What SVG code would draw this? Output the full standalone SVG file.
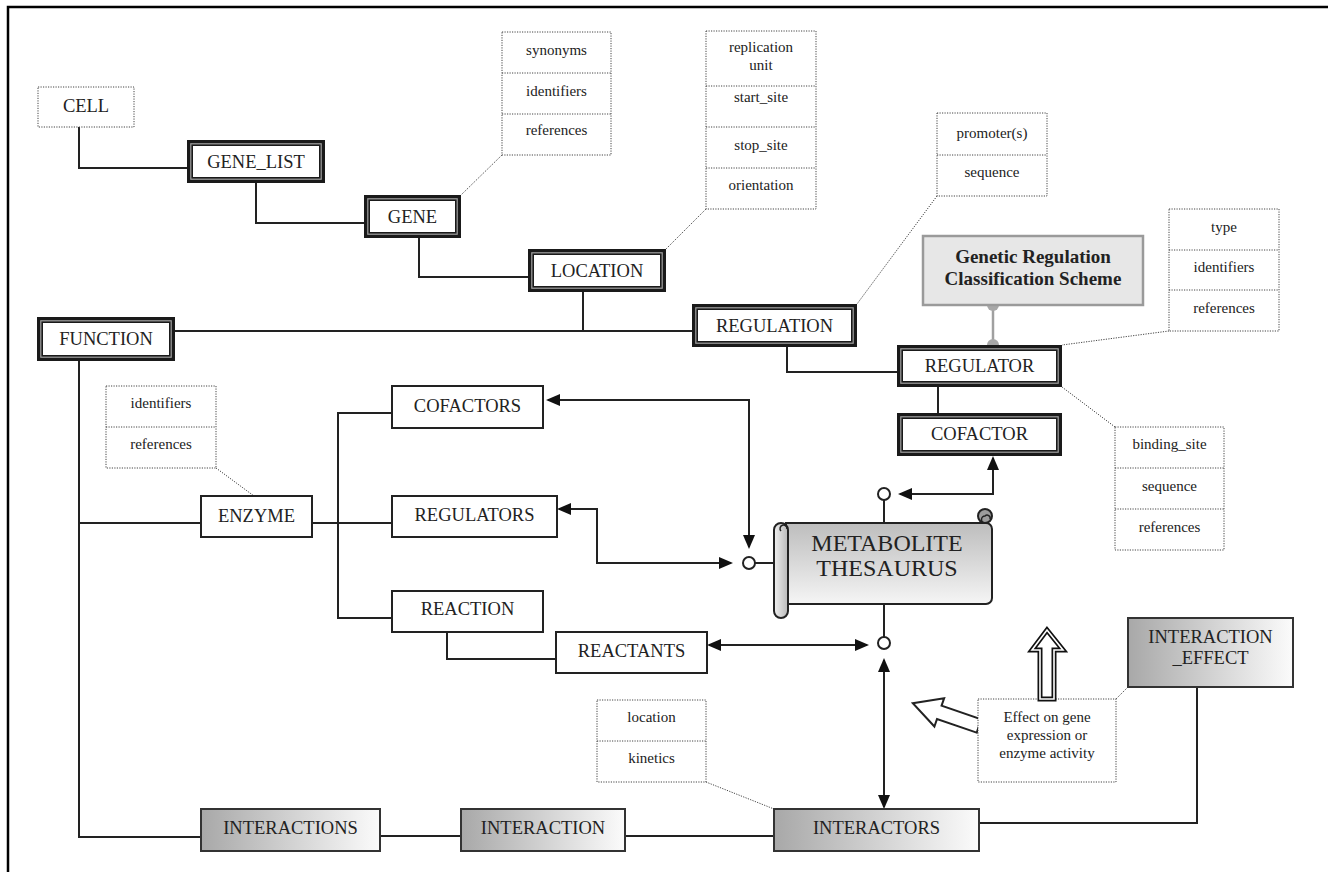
<svg xmlns="http://www.w3.org/2000/svg" width="1328" height="872" viewBox="0 0 1328 872">
<defs>
<style>
.frame{stroke:#000;stroke-width:2.5;fill:none}
.conn{stroke:#222;stroke-width:2;fill:none}
.arr{stroke:#222;stroke-width:2;fill:none;marker-start:url(#ah);marker-end:url(#ah)}
.dot{stroke:#444;stroke-width:1;stroke-dasharray:1.2 1.3;fill:none}
.dotbox{fill:#fff;stroke:#444;stroke-width:1;stroke-dasharray:1.2 1.3}
.single{fill:#fff;stroke:#222;stroke-width:2}
.dblo{fill:#fff;stroke:#1a1a1a;stroke-width:6}
.dbli{fill:none;stroke:#a0a0a0;stroke-width:1.2}
.grad{fill:url(#gh);stroke:#333;stroke-width:2}
.circ{fill:#fff;stroke:#222;stroke-width:2}
.lbl{font-family:"Liberation Serif","Times New Roman",serif;font-size:18.5px;fill:#222;text-anchor:middle}
.sm{font-size:15px}
</style>
<linearGradient id="gh" x1="0" y1="0" x2="1" y2="0">
<stop offset="0" stop-color="#a8a8a8"/><stop offset="1" stop-color="#fbfbfb"/>
</linearGradient>
<linearGradient id="gv" x1="0" y1="0" x2="0" y2="1">
<stop offset="0" stop-color="#bdbdbd"/><stop offset="1" stop-color="#f5f5f5"/>
</linearGradient>
<linearGradient id="gt" x1="0" y1="0" x2="1" y2="0">
<stop offset="0" stop-color="#f0f0f0"/><stop offset="1" stop-color="#b8b8b8"/>
</linearGradient>
<marker id="ah" markerUnits="userSpaceOnUse" markerWidth="16" markerHeight="14" refX="12" refY="6" orient="auto-start-reverse">
<path d="M0,0 L14,6 L0,12 Z" fill="#111"/>
</marker>
</defs>
<rect width="1328" height="872" fill="#fff"/>
<path class="frame" d="M8,872 V7 H1328"/>

<g id="connectors">
<path class="conn" d="M79,127 V168 H187"/>
<path class="conn" d="M256,183 V223 H364"/>
<path class="conn" d="M419,238 V277 H528"/>
<path class="conn" d="M583,292 V331"/>
<path class="conn" d="M175,331 H692"/>
<path class="conn" d="M787,347 V372 H897"/>
<path class="conn" d="M938,387 V413"/>
<path class="conn" d="M79,361 V837 H201"/>
<path class="conn" d="M79,523 H201"/>
<path class="conn" d="M312,523 H392"/>
<path class="conn" d="M392,413 H338 V618 H392"/>
<path class="conn" d="M447,632 V659 H556"/>
<path class="conn" d="M380,836 H461"/>
<path class="conn" d="M625,836 H774"/>
<path class="conn" d="M979,823 H1197 V687"/>
<path class="conn" d="M755,563 H774"/>
<path class="conn" d="M884,500 V523"/>
<path class="conn" d="M884,604 V637"/>
<path class="arr" d="M548,400 H749 V547"/>
<path class="arr" d="M559,509 H597 V563 H731"/>
<path class="arr" d="M709,645 H867"/>
<path class="arr" d="M884,660 V807"/>
<path class="arr" d="M900,494 H993 V458"/>
<path d="M993,305 V345" stroke="#a0a0a0" stroke-width="2.5"/>
<circle cx="993" cy="305" r="6" fill="#a8a8a8"/>
<circle cx="993" cy="345" r="6" fill="#a8a8a8"/>
<path class="dot" d="M502,155 L461,195"/>
<path class="dot" d="M706,209 L666,249"/>
<path class="dot" d="M937,196 L857,304"/>
<path class="dot" d="M1169,331 L1062,345"/>
<path class="dot" d="M1115,427 L1062,387"/>
<path class="dot" d="M216,468 L254,496"/>
<path class="dot" d="M706,782 L774,809"/>
<path class="dot" d="M1116,699 L1128,687"/>
<circle class="circ" cx="749" cy="563" r="6"/>
<circle class="circ" cx="884" cy="494" r="6"/>
<circle class="circ" cx="884" cy="643" r="6"/>
</g>

<g id="cell">
<rect class="dotbox" x="38" y="87" width="96" height="40"/>
<text class="lbl" x="86" y="112">CELL</text>
</g>
<g id="gene_list">
<rect class="dblo" x="190" y="143" width="132" height="37"/><rect class="dbli" x="190.8" y="143.8" width="130.4" height="35.4"/>
<text class="lbl" x="256" y="168">GENE_LIST</text>
</g>
<g id="gene">
<rect class="dblo" x="367" y="198" width="91" height="37"/><rect class="dbli" x="367.8" y="198.8" width="89.4" height="35.4"/>
<text class="lbl" x="412.5" y="223">GENE</text>
</g>
<g id="location">
<rect class="dblo" x="531" y="252" width="132" height="37"/><rect class="dbli" x="531.8" y="252.8" width="130.4" height="35.4"/>
<text class="lbl" x="597" y="277">LOCATION</text>
</g>
<g id="regulation">
<rect class="dblo" x="695" y="307" width="159" height="37"/><rect class="dbli" x="695.8" y="307.8" width="157.4" height="35.4"/>
<text class="lbl" x="774.5" y="332">REGULATION</text>
</g>
<g id="function">
<rect class="dblo" x="40" y="320" width="132" height="38"/><rect class="dbli" x="40.8" y="320.8" width="130.4" height="36.4"/>
<text class="lbl" x="106" y="345">FUNCTION</text>
</g>
<g id="regulator">
<rect class="dblo" x="900" y="348" width="159" height="36"/><rect class="dbli" x="900.8" y="348.8" width="157.4" height="34.4"/>
<text class="lbl" x="979.5" y="372">REGULATOR</text>
</g>
<g id="cofactor">
<rect class="dblo" x="900" y="416" width="159" height="37"/><rect class="dbli" x="900.8" y="416.8" width="157.4" height="35.4"/>
<text class="lbl" x="979.5" y="440">COFACTOR</text>
</g>

<g id="cofactors">
<rect class="single" x="392" y="386" width="151" height="42"/>
<text class="lbl" x="467.5" y="412">COFACTORS</text>
</g>
<g id="regulators">
<rect class="single" x="392" y="496" width="165" height="41"/>
<text class="lbl" x="474.5" y="521">REGULATORS</text>
</g>
<g id="reaction">
<rect class="single" x="392" y="591" width="151" height="41"/>
<text class="lbl" x="467.5" y="615">REACTION</text>
</g>
<g id="reactants">
<rect class="single" x="556" y="632" width="151" height="41"/>
<text class="lbl" x="631.5" y="657">REACTANTS</text>
</g>
<g id="enzyme">
<rect class="single" x="201" y="496" width="111" height="41"/>
<text class="lbl" x="256.5" y="522">ENZYME</text>
</g>

<g id="interactions">
<rect class="grad" x="201" y="809" width="179" height="42"/>
<text class="lbl" x="290.5" y="834">INTERACTIONS</text>
</g>
<g id="interaction">
<rect class="grad" x="461" y="809" width="164" height="42"/>
<text class="lbl" x="543" y="834">INTERACTION</text>
</g>
<g id="interactors">
<rect class="grad" x="774" y="809" width="205" height="42"/>
<text class="lbl" x="876.5" y="834">INTERACTORS</text>
</g>
<g id="interaction_effect">
<rect class="grad" x="1128" y="618" width="165" height="69"/>
<text class="lbl" x="1210.5" y="643">INTERACTION</text>
<text class="lbl" x="1210.5" y="664">_EFFECT</text>
</g>

<g id="genetic_regulation">
<rect x="923" y="236" width="220" height="69" fill="#e7e7e7" stroke="#9a9a9a" stroke-width="2.5"/>
<text class="lbl" x="1033" y="263" style="font-weight:bold;font-size:19px">Genetic Regulation</text>
<text class="lbl" x="1033" y="285" style="font-weight:bold;font-size:19px">Classification Scheme</text>
</g>

<g id="gene_attrs">
<rect class="dotbox" x="502" y="32" width="109" height="123"/>
<path class="dot" d="M502,73 H611 M502,114 H611"/>
<text class="lbl sm" x="556.5" y="55">synonyms</text>
<text class="lbl sm" x="556.5" y="96">identifiers</text>
<text class="lbl sm" x="556.5" y="135">references</text>
</g>
<g id="location_attrs">
<rect class="dotbox" x="706" y="31" width="110" height="178"/>
<path class="dot" d="M706,86 H816 M706,127 H816 M706,168 H816"/>
<text class="lbl sm" x="761" y="52">replication</text>
<text class="lbl sm" x="761" y="70">unit</text>
<text class="lbl sm" x="761" y="102">start_site</text>
<text class="lbl sm" x="761" y="150">stop_site</text>
<text class="lbl sm" x="761" y="190">orientation</text>
</g>
<g id="regulation_attrs">
<rect class="dotbox" x="937" y="113" width="110" height="83"/>
<path class="dot" d="M937,155 H1047"/>
<text class="lbl sm" x="992" y="138">promoter(s)</text>
<text class="lbl sm" x="992" y="177">sequence</text>
</g>
<g id="regulator_attrs">
<rect class="dotbox" x="1169" y="209" width="110" height="122"/>
<path class="dot" d="M1169,250 H1279 M1169,290 H1279"/>
<text class="lbl sm" x="1224" y="232">type</text>
<text class="lbl sm" x="1224" y="272">identifiers</text>
<text class="lbl sm" x="1224" y="313">references</text>
</g>
<g id="binding_attrs">
<rect class="dotbox" x="1115" y="427" width="109" height="123"/>
<path class="dot" d="M1115,468 H1224 M1115,509 H1224"/>
<text class="lbl sm" x="1169.5" y="449">binding_site</text>
<text class="lbl sm" x="1169.5" y="491">sequence</text>
<text class="lbl sm" x="1169.5" y="532">references</text>
</g>
<g id="enzyme_attrs">
<rect class="dotbox" x="106" y="386" width="110" height="82"/>
<path class="dot" d="M106,427 H216"/>
<text class="lbl sm" x="161" y="408">identifiers</text>
<text class="lbl sm" x="161" y="449">references</text>
</g>
<g id="interactor_attrs">
<rect class="dotbox" x="597" y="700" width="109" height="82"/>
<path class="dot" d="M597,741 H706"/>
<text class="lbl sm" x="651.5" y="722">location</text>
<text class="lbl sm" x="651.5" y="763">kinetics</text>
</g>

<g id="effect_note">
<polygon points="0,-7 42,-7 42,-15 70,0 42,15 42,7 0,7" transform="translate(979,726) rotate(199)" fill="#fff" stroke="#222" stroke-width="2"/>
<rect class="dotbox" x="978" y="699" width="138" height="83"/>
<polygon points="1040,699 1040,650 1032,650 1047,630 1063,650 1054,650 1054,699" fill="#fff" stroke="#111" stroke-width="5" stroke-linejoin="miter"/>
<polygon points="1040,699 1040,650 1032,650 1047,630 1063,650 1054,650 1054,699" fill="none" stroke="#fff" stroke-width="1.6"/>
<text class="lbl sm" x="1047" y="722">Effect on gene</text>
<text class="lbl sm" x="1047" y="740">expression or</text>
<text class="lbl sm" x="1047" y="758">enzyme activity</text>
</g>

<g id="metabolite_thesaurus">
<path d="M786,523 H986 A6,6 0 0 1 992,529 V598 A6,6 0 0 1 986,604 H786 Z" fill="url(#gv)" stroke="#222" stroke-width="2"/>
<circle cx="985" cy="516" r="7" fill="#9c9c9c" stroke="#222" stroke-width="2"/>
<path d="M985,523 A3.5,3.5 0 0 1 985,516 A3,3 0 0 1 990,519" fill="none" stroke="#222" stroke-width="1.5"/>
<rect x="774" y="523" width="14" height="95" rx="7" fill="url(#gt)" stroke="#222" stroke-width="2"/>
<path d="M781,531 A3.5,3.5 0 1 1 787,529" fill="none" stroke="#222" stroke-width="1.5"/>
<text class="lbl" x="887" y="551" style="font-size:24px">METABOLITE</text>
<text class="lbl" x="887" y="576" style="font-size:24px">THESAURUS</text>
</g>
</svg>
